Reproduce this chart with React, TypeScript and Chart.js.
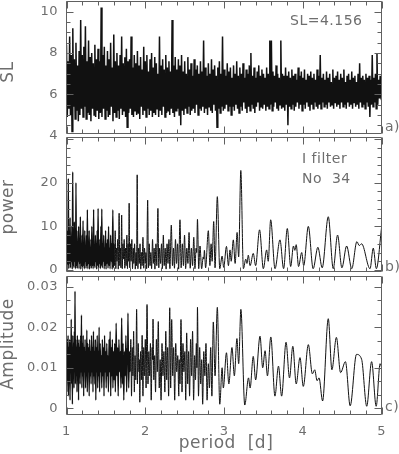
import React, { useEffect, useRef } from "react";
import { Chart, registerables } from "chart.js";

Chart.register(...registerables);

// ---------- data ----------
const periodMin = 1;
const periodMax = 5;
const periodTicks = [1, 2, 3, 4, 5];

// SL panel: values on a regular period grid starting at slStart with step slStep
const slStart = 1.0;
const slStep = 0.01;
const slValues = [
  8.4, 4.9, 7.6, 5.3, 8.8, 5.0, 7.9, 4.2, 9.2, 5.4,
  7.7, 4.8, 8.5, 5.2, 7.4, 4.7, 8.1, 5.0, 9.6, 5.3,
  7.9, 4.9, 8.3, 5.4, 9.3, 4.8, 7.6, 5.1, 8.6, 5.0,
  7.8, 4.7, 8.0, 5.3, 7.5, 5.0, 8.4, 4.9, 7.7, 5.2,
  8.2, 4.8, 7.6, 5.1, 10.2, 4.9, 7.9, 5.3, 8.3, 4.8,
  7.4, 5.2, 8.1, 4.9, 7.7, 5.0, 8.5, 5.4, 7.3, 4.7,
  8.9, 5.1, 7.6, 4.9, 8.0, 5.2, 7.4, 4.8, 7.9, 5.3,
  8.8, 5.0, 7.5, 5.2, 7.8, 4.9, 8.2, 4.4, 7.6, 5.1,
  7.7, 5.3, 8.8, 5.0, 7.3, 4.9, 7.9, 5.2, 7.5, 5.0,
  8.1, 5.1, 7.4, 4.8, 7.8, 5.4, 7.2, 5.0, 8.3, 5.2,
  7.6, 4.9, 7.9, 5.3, 7.1, 5.0, 7.7, 5.2, 8.0, 4.9,
  7.3, 5.1, 7.8, 5.0, 7.5, 5.3, 7.0, 4.9, 8.8, 5.2,
  7.4, 5.0, 7.7, 5.4, 7.2, 4.9, 7.9, 5.1, 7.3, 5.2,
  7.6, 5.0, 7.1, 5.3, 9.6, 5.1, 7.4, 4.9, 7.8, 5.2,
  7.2, 5.3, 7.7, 5.0, 7.4, 4.5, 7.9, 5.2, 7.1, 5.0,
  7.6, 5.3, 7.0, 5.1, 7.8, 5.4, 7.2, 5.0, 7.5, 5.2,
  6.9, 5.3, 7.7, 5.1, 7.2, 5.5, 7.4, 5.0, 7.0, 5.3,
  7.6, 5.2, 7.1, 5.4, 8.6, 5.1, 7.3, 5.3, 6.9, 5.0,
  7.5, 5.4, 7.0, 5.2, 7.7, 5.1, 7.2, 5.5, 7.4, 5.2,
  6.9, 4.4, 7.3, 5.3, 7.6, 5.1, 7.0, 5.4, 8.8, 5.2,
  7.2, 5.3, 6.9, 5.5, 7.5, 5.2, 7.1, 5.4, 7.3, 5.0,
  6.8, 5.4, 7.4, 5.2, 7.0, 5.5, 7.6, 5.3, 6.9, 5.1,
  7.3, 5.4, 7.0, 5.2, 7.5, 5.6, 6.8, 5.3, 7.2, 5.1,
  7.0, 5.4, 7.4, 5.2, 8.0, 5.5, 6.9, 5.3, 7.3, 5.1,
  6.8, 5.4, 7.1, 5.6, 7.4, 5.2, 6.9, 5.4, 7.2, 5.3,
  7.0, 5.5, 6.8, 5.2, 7.3, 5.4, 7.0, 5.3, 8.6, 5.5,
  8.6, 5.2, 7.1, 5.4, 6.9, 5.6, 7.4, 5.3, 7.0, 5.2,
  6.8, 5.5, 8.6, 5.3, 7.0, 5.4, 6.9, 5.2, 7.3, 5.5,
  6.9, 4.5, 7.1, 5.4, 6.8, 5.3, 7.2, 5.5, 6.9, 5.2,
  7.0, 5.4, 6.7, 5.6, 7.3, 5.3, 6.9, 5.5, 7.1, 5.2,
  6.8, 5.5, 7.2, 5.3, 6.7, 5.6, 7.0, 5.4, 6.9, 5.2,
  7.1, 5.5, 6.8, 5.3, 7.0, 5.6, 6.7, 5.4, 7.2, 5.3,
  6.9, 5.5, 7.9, 5.3, 6.8, 5.6, 7.0, 5.4, 6.7, 5.5,
  7.1, 5.3, 6.8, 5.6, 7.0, 5.4, 6.6, 5.5, 7.2, 5.3,
  6.8, 5.6, 6.9, 5.4, 7.1, 5.5, 6.7, 5.3, 7.0, 5.6,
  6.8, 5.4, 7.2, 5.5, 6.6, 5.3, 6.9, 5.6, 7.0, 5.4,
  6.7, 5.5, 7.1, 5.3, 6.8, 5.6, 6.9, 5.4, 6.6, 5.5,
  7.0, 5.3, 7.5, 5.6, 6.8, 5.4, 6.9, 5.5, 6.7, 5.3,
  7.0, 5.6, 6.8, 5.4, 6.9, 4.9, 6.7, 5.5, 7.9, 5.4,
  6.8, 5.6, 7.0, 5.3, 8.0, 5.5, 6.7, 5.8, 6.9, 5.9,
  6.0,
];

// power panel: [period, power] turning points
const powerPoints: [number, number][] = [
  [1.000, 3], [1.006, 0.5], [1.012, 9], [1.017, 1], [1.023, 21], [1.029, 0.3], [1.035, 7], [1.040, 1.5],
  [1.046, 12], [1.051, 0.5], [1.057, 6], [1.062, 2], [1.068, 10], [1.073, 0.2], [1.079, 22.5], [1.085, 1],
  [1.090, 8], [1.095, 0.5], [1.100, 11], [1.106, 2], [1.112, 6], [1.116, 0.3], [1.120, 20], [1.126, 1],
  [1.132, 9], [1.137, 0.4], [1.143, 6], [1.148, 2], [1.154, 10], [1.159, 0.3], [1.165, 7], [1.170, 1.5],
  [1.176, 12.2], [1.181, 0.2], [1.187, 5], [1.192, 1], [1.198, 8], [1.203, 0.5], [1.210, 11.3], [1.215, 1],
  [1.221, 6], [1.226, 0.3], [1.232, 9], [1.237, 2], [1.243, 5], [1.248, 0.4], [1.254, 8], [1.259, 1],
  [1.265, 13.8], [1.271, 0.3], [1.277, 6], [1.282, 1.5], [1.288, 9], [1.293, 0.2], [1.299, 5], [1.304, 1],
  [1.310, 7], [1.315, 0.4], [1.321, 10], [1.327, 1], [1.333, 6], [1.338, 0.3], [1.344, 13.9], [1.350, 1],
  [1.356, 5], [1.361, 0.5], [1.367, 8], [1.372, 2], [1.378, 6], [1.383, 0.2], [1.389, 9], [1.395, 1],
  [1.401, 14.1], [1.407, 0.4], [1.413, 5], [1.418, 1.5], [1.424, 7], [1.430, 0.3], [1.436, 10], [1.442, 1],
  [1.448, 14], [1.454, 0.5], [1.460, 6], [1.466, 2], [1.472, 8], [1.478, 0.3], [1.484, 5], [1.490, 1],
  [1.496, 9], [1.502, 0.2], [1.508, 6], [1.514, 1.5], [1.520, 7], [1.527, 0.4], [1.534, 10], [1.540, 1],
  [1.547, 5], [1.553, 0.3], [1.560, 8], [1.567, 2], [1.574, 6], [1.580, 0.2], [1.588, 13.8], [1.595, 0.5],
  [1.603, 6], [1.610, 1], [1.618, 9], [1.626, 0.3], [1.634, 5], [1.641, 2], [1.649, 7], [1.657, 0.2],
  [1.668, 13], [1.676, 1], [1.684, 5], [1.691, 0.5], [1.700, 12.6], [1.708, 0.3], [1.716, 6], [1.724, 2.5],
  [1.732, 7], [1.740, 0.4], [1.749, 5], [1.757, 1], [1.766, 8], [1.774, 0.3], [1.782, 6], [1.788, 2],
  [1.795, 15.3], [1.803, 0.5], [1.812, 6], [1.820, 2], [1.829, 7], [1.838, 0.3], [1.847, 5], [1.855, 1.5],
  [1.864, 6], [1.873, 0.2], [1.882, 4], [1.889, 1], [1.897, 21.8], [1.906, 0.3], [1.915, 5], [1.924, 1.5],
  [1.933, 6], [1.942, 0.2], [1.952, 4], [1.960, 1], [1.970, 7.5], [1.980, 0.4], [1.990, 5], [1.999, 1.5],
  [2.008, 4], [2.017, 0.3], [2.030, 16], [2.040, 0.5], [2.050, 6], [2.060, 1], [2.070, 4], [2.080, 0.3],
  [2.092, 7], [2.102, 1.5], [2.112, 5], [2.122, 0.2], [2.135, 6], [2.146, 1], [2.160, 14.1], [2.171, 0.5],
  [2.182, 5], [2.194, 1.5], [2.206, 6], [2.217, 0.3], [2.229, 8], [2.240, 1], [2.252, 5], [2.264, 0.2],
  [2.276, 6], [2.288, 1.5], [2.300, 7], [2.312, 0.3], [2.330, 10.3], [2.345, 1], [2.358, 5], [2.370, 0.4],
  [2.383, 7], [2.396, 1.5], [2.410, 6], [2.423, 0.2], [2.440, 11.5], [2.455, 0.5], [2.470, 6], [2.484, 1],
  [2.498, 8], [2.512, 0.3], [2.527, 5], [2.541, 1.5], [2.555, 8.6], [2.570, 0.4], [2.585, 5], [2.600, 1],
  [2.615, 7.5], [2.630, 0.3], [2.645, 5], [2.652, 4], [2.662, 11.6], [2.678, 0.3], [2.694, 5.5], [2.715, 0.3],
  [2.735, 3], [2.742, 2.5], [2.750, 4.5], [2.765, 0.5], [2.800, 9], [2.820, 1], [2.835, 6], [2.848, 2],
  [2.868, 11.1], [2.885, 0.5], [2.914, 16.8], [2.945, 0.3], [2.975, 3.2], [2.995, 0.6], [3.030, 5.4], [3.055, 1],
  [3.075, 4.6], [3.090, 2], [3.117, 6.9], [3.140, 1.5], [3.165, 8.6], [3.185, 3], [3.212, 22.8], [3.245, 0.3],
  [3.275, 2.5], [3.290, 1.5], [3.307, 3.4], [3.330, 1], [3.370, 3.8], [3.400, 1], [3.450, 9.2], [3.498, 0.3],
  [3.540, 4.6], [3.560, 2], [3.591, 11.5], [3.646, 0.3], [3.709, 6.9], [3.755, 0.3], [3.802, 9.5], [3.845, 0.8],
  [3.880, 5.5], [3.898, 4.5], [3.915, 5.8], [3.945, 0.8], [3.985, 4], [4.010, 1], [4.069, 10], [4.130, 0.3],
  [4.190, 5.2], [4.245, 0.5], [4.322, 12.2], [4.385, 0.3], [4.440, 8], [4.495, 0.5], [4.555, 5.5], [4.620, 0.3],
  [4.685, 6.5], [4.715, 5.6], [4.745, 6], [4.852, 0.3], [4.893, 5], [4.932, 0.3], [5.000, 10],
];

// amplitude panel: [period, amplitude] turning points
const amplitudePoints: [number, number][] = [
  [1.000, 0.012], [1.005, 0.004], [1.010, 0.017], [1.015, 0.007], [1.020, 0.018], [1.025, 0.003], [1.030, 0.015], [1.035, 0.008],
  [1.040, 0.017], [1.045, 0.002], [1.050, 0.016], [1.055, 0.009], [1.060, 0.022], [1.065, 0.006], [1.070, 0.015], [1.075, 0.001],
  [1.080, 0.018], [1.085, 0.008], [1.090, 0.016], [1.095, 0.005], [1.100, 0.019], [1.104, 0.009], [1.108, 0.0289], [1.113, 0.006],
  [1.118, 0.017], [1.123, 0.009], [1.128, 0.015], [1.133, 0.004], [1.138, 0.018], [1.143, 0.008], [1.148, 0.016], [1.153, 0.002],
  [1.158, 0.017], [1.163, 0.009], [1.168, 0.015], [1.173, 0.006], [1.180, 0.018], [1.185, 0.009], [1.190, 0.023], [1.195, 0.005],
  [1.200, 0.016], [1.206, 0.008], [1.212, 0.018], [1.218, 0.003], [1.224, 0.015], [1.230, 0.009], [1.236, 0.017], [1.242, 0.005],
  [1.248, 0.014], [1.253, 0.008], [1.258, 0.0193], [1.264, 0.004], [1.270, 0.016], [1.276, 0.009], [1.282, 0.015], [1.288, 0.003],
  [1.294, 0.017], [1.300, 0.008], [1.306, 0.014], [1.312, 0.006], [1.318, 0.018], [1.324, 0.009], [1.330, 0.015], [1.336, 0.004],
  [1.342, 0.019], [1.348, 0.008], [1.354, 0.014], [1.360, 0.006], [1.366, 0.017], [1.372, 0.002], [1.378, 0.015], [1.384, 0.009],
  [1.390, 0.018], [1.396, 0.005], [1.402, 0.014], [1.408, 0.008], [1.414, 0.020], [1.420, 0.004], [1.427, 0.016], [1.434, 0.009],
  [1.441, 0.013], [1.448, 0.005], [1.455, 0.017], [1.462, 0.008], [1.469, 0.015], [1.476, 0.003], [1.483, 0.018], [1.490, 0.009],
  [1.497, 0.014], [1.504, 0.005], [1.511, 0.016], [1.518, 0.008], [1.525, 0.013], [1.532, 0.004], [1.540, 0.017], [1.547, 0.009],
  [1.554, 0.019], [1.561, 0.003], [1.568, 0.015], [1.575, 0.008], [1.582, 0.017], [1.589, 0.005], [1.596, 0.014], [1.604, 0.007],
  [1.612, 0.016], [1.620, 0.004], [1.630, 0.021], [1.639, 0.008], [1.648, 0.015], [1.656, 0.003], [1.665, 0.017], [1.674, 0.009],
  [1.683, 0.014], [1.691, 0.005], [1.700, 0.0223], [1.709, 0.006], [1.718, 0.016], [1.727, 0.002], [1.736, 0.014], [1.745, 0.008],
  [1.754, 0.018], [1.763, 0.004], [1.772, 0.015], [1.776, 0.012], [1.780, 0.0235], [1.789, 0.005], [1.798, 0.014], [1.807, 0.009],
  [1.816, 0.017], [1.825, 0.003], [1.834, 0.015], [1.843, 0.008], [1.852, 0.019], [1.861, 0.004], [1.870, 0.013], [1.879, 0.007],
  [1.890, 0.0244], [1.900, 0.006], [1.910, 0.016], [1.920, 0.009], [1.925, 0.012], [1.930, 0.0015], [1.940, 0.014], [1.950, 0.007],
  [1.960, 0.018], [1.970, 0.003], [1.980, 0.015], [1.990, 0.008], [2.000, 0.017], [2.010, 0.005], [2.022, 0.0256], [2.034, 0.006],
  [2.045, 0.014], [2.055, 0.008], [2.065, 0.016], [2.075, 0.002], [2.087, 0.015], [2.092, 0.012], [2.098, 0.022], [2.108, 0.007],
  [2.119, 0.013], [2.130, 0.004], [2.141, 0.017], [2.152, 0.009], [2.165, 0.0214], [2.177, 0.005], [2.189, 0.012], [2.200, 0.002],
  [2.212, 0.016], [2.224, 0.008], [2.236, 0.014], [2.248, 0.004], [2.260, 0.019], [2.272, 0.007], [2.284, 0.015], [2.296, 0.003],
  [2.310, 0.0248], [2.322, 0.005], [2.335, 0.0219], [2.348, 0.008], [2.360, 0.015], [2.373, 0.002], [2.386, 0.016], [2.399, 0.009],
  [2.412, 0.013], [2.425, 0.003], [2.430, 0.012], [2.440, 0.006], [2.453, 0.0219], [2.466, 0.004], [2.478, 0.016], [2.490, 0.009],
  [2.502, 0.014], [2.513, 0.002], [2.525, 0.0186], [2.538, 0.006], [2.550, 0.014], [2.562, 0.003], [2.575, 0.017], [2.588, 0.008],
  [2.600, 0.019], [2.613, 0.002], [2.626, 0.013], [2.637, 0.007], [2.648, 0.016], [2.655, 0.010], [2.662, 0.0249], [2.675, 0.003],
  [2.690, 0.015], [2.703, 0.006], [2.716, 0.012], [2.728, 0.001], [2.742, 0.014], [2.756, 0.008], [2.770, 0.016], [2.784, 0.002],
  [2.800, 0.011], [2.814, 0.005], [2.830, 0.015], [2.845, 0.003], [2.863, 0.0213], [2.885, 0.008], [2.914, 0.0249], [2.945, 0.001],
  [2.975, 0.010], [2.990, 0.005], [3.030, 0.0137], [3.060, 0.006], [3.100, 0.015], [3.130, 0.008], [3.163, 0.0172], [3.185, 0.011],
  [3.213, 0.0244], [3.262, 0.0008], [3.310, 0.0075], [3.330, 0.005], [3.370, 0.0128], [3.400, 0.007], [3.456, 0.0178], [3.490, 0.010],
  [3.520, 0.0142], [3.550, 0.008], [3.593, 0.0176], [3.645, 0.003], [3.690, 0.0104], [3.730, 0.003], [3.786, 0.0163], [3.830, 0.0075],
  [3.872, 0.0153], [3.915, 0.006], [3.963, 0.0125], [4.005, 0.0054], [4.069, 0.0157], [4.120, 0.0085], [4.150, 0.0095], [4.180, 0.0068],
  [4.205, 0.0075], [4.250, 0.0018], [4.322, 0.0221], [4.368, 0.0095], [4.425, 0.0175], [4.478, 0.0088], [4.540, 0.0115], [4.600, 0.0006],
  [4.680, 0.0133], [4.745, 0.0121], [4.810, 0.0005], [4.872, 0.0115], [4.930, 0.0005], [4.980, 0.011], [5.000, 0.010],
];

const slTickValues = [4, 6, 8, 10];
const slTickText = ["4", "6", "8", "10"];
const powerTickValues = [0, 10, 20];
const powerTickText = ["0", "10", "20"];
const ampTickValues = [0, 0.01, 0.02, 0.03];
const ampTickText = ["0", "0.01", "0.02", "0.03"];

const slTitle = "SL";
const powerTitle = "power";
const ampTitle = "Amplitude";
const xTitle = "period  [d]";
const slNote = "SL=4.156";
const filterNote = "I filter";
const starNote = "No  34";

// ---------- layout / style ----------
const W = 399;
const H = 454;
const PLOT_LEFT = 66.5;
const PLOT_RIGHT = 381.7;
const FONT = '"DejaVu Sans", sans-serif';
const TEXT = "#6e6e6e";
const FRAME = "#606060";
const LINE = "#111111";

type Note = { text: string; x: number; y: number };
type Frame = {
  tickStart: number;
  tickStep: number;
  majorEvery: number;
  labelValues: number[];
  labelText: string[];
  title: string;
  titleY: number;
  corner: string;
  cornerY: number;
  notes: Note[];
  xLabels: boolean;
};

function framePlugin(f: Frame) {
  return {
    id: "panelFrame",
    afterDraw(chart: any) {
      const { ctx, chartArea: a, scales } = chart;
      const xs = scales.x;
      const ys = scales.y;
      const L = Math.floor(a.left) + 0.5;
      const R = Math.floor(a.right) + 0.5;
      const T = Math.floor(a.top) + 0.5;
      const B = Math.floor(a.bottom) + 0.5;
      ctx.save();
      ctx.strokeStyle = FRAME;
      ctx.lineWidth = 1;
      ctx.beginPath();
      ctx.rect(L, T, R - L, B - T);
      for (let i = 0; i <= 20; i++) {
        const v = periodMin + i * 0.2;
        const px = Math.round(xs.getPixelForValue(v)) + 0.5;
        const len = i % 5 === 0 ? 7 : 4;
        ctx.moveTo(px, T);
        ctx.lineTo(px, T + len);
        ctx.moveTo(px, B);
        ctx.lineTo(px, B - len);
      }
      for (let i = 0; i < 200; i++) {
        const v = f.tickStart + i * f.tickStep;
        if (v > ys.max + 1e-12) break;
        if (v < ys.min - 1e-12) continue;
        const py = Math.round(ys.getPixelForValue(v)) + 0.5;
        const len = i % f.majorEvery === 0 ? 7 : 4;
        ctx.moveTo(L, py);
        ctx.lineTo(L + len, py);
        ctx.moveTo(R, py);
        ctx.lineTo(R - len, py);
      }
      ctx.stroke();

      ctx.fillStyle = TEXT;
      (ctx as any).letterSpacing = "0.5px";
      ctx.font = `13px ${FONT}`;
      ctx.textAlign = "right";
      ctx.textBaseline = "middle";
      f.labelValues.forEach((v, k) => {
        ctx.fillText(f.labelText[k], 58, ys.getPixelForValue(v));
      });
      if (f.xLabels) {
        ctx.textAlign = "center";
        periodTicks.forEach((v) => {
          ctx.fillText(String(v), xs.getPixelForValue(v), 432);
        });
        ctx.font = `17px ${FONT}`;
        ctx.textBaseline = "alphabetic";
        ctx.fillText(xTitle, 226, 448);
      }
      ctx.font = `14px ${FONT}`;
      ctx.textAlign = "left";
      ctx.textBaseline = "alphabetic";
      f.notes.forEach((n) => ctx.fillText(n.text, n.x, n.y));
      ctx.textBaseline = "middle";
      ctx.fillText(f.corner, 385, f.cornerY);
      ctx.save();
      ctx.translate(13, f.titleY);
      ctx.rotate(-Math.PI / 2);
      ctx.font = `17px ${FONT}`;
      ctx.textAlign = "center";
      ctx.textBaseline = "alphabetic";
      ctx.fillText(f.title, 0, 0);
      ctx.restore();
      ctx.restore();
    },
  };
}

type Panel = {
  data: { x: number; y: number }[];
  yMin: number;
  yMax: number;
  top: number;
  bottom: number;
  smooth: boolean;
  denseUntil: number;
  denseWidth: number;
  frame: Frame;
};

function makeChart(canvas: HTMLCanvasElement, p: Panel) {
  return new Chart(canvas, {
    type: "line",
    data: {
      datasets: [
        {
          data: p.data,
          borderColor: LINE,
          borderWidth: 1,
          pointRadius: 0,
          fill: false,
          tension: 0,
          cubicInterpolationMode: p.smooth ? "monotone" : "default",
          segment: {
            borderWidth: (c: any) => (c.p0.parsed.x < p.denseUntil ? p.denseWidth : 1),
          },
        } as any,
      ],
    },
    options: {
      responsive: false,
      animation: false,
      events: [],
      parsing: false,
      layout: {
        padding: { left: PLOT_LEFT, right: W - PLOT_RIGHT, top: p.top, bottom: H - p.bottom },
      },
      scales: {
        x: { type: "linear", min: periodMin, max: periodMax, display: false },
        y: { type: "linear", min: p.yMin, max: p.yMax, display: false },
      },
      plugins: { legend: { display: false }, tooltip: { enabled: false } },
    } as any,
    plugins: [framePlugin(p.frame)],
  });
}

export default function App() {
  const r1 = useRef<HTMLCanvasElement>(null);
  const r2 = useRef<HTMLCanvasElement>(null);
  const r3 = useRef<HTMLCanvasElement>(null);

  useEffect(() => {
    const slData = slValues.map((v, i) => ({ x: slStart + i * slStep, y: v }));
    const powerData = powerPoints.map(([x, y]) => ({ x, y }));
    const ampData = amplitudePoints.map(([x, y]) => ({ x, y }));

    const panels: Panel[] = [
      {
        data: slData,
        yMin: 4.126,
        yMax: 10.518,
        top: 1,
        bottom: 133,
        smooth: false,
        denseUntil: 6,
        denseWidth: 1.5,
        frame: {
          tickStart: 4, tickStep: 0.5, majorEvery: 4,
          labelValues: slTickValues, labelText: slTickText,
          title: slTitle, titleY: 72, corner: "a)", cornerY: 127.5,
          notes: [{ text: slNote, x: 290, y: 25 }], xLabels: false,
        },
      },
      {
        data: powerData,
        yMin: -0.23,
        yMax: 30.47,
        top: 137,
        bottom: 271,
        smooth: true,
        denseUntil: 1.6,
        denseWidth: 1.4,
        frame: {
          tickStart: 0, tickStep: 2, majorEvery: 5,
          labelValues: powerTickValues, labelText: powerTickText,
          title: powerTitle, titleY: 207, corner: "b)", cornerY: 267.5,
          notes: [
            { text: filterNote, x: 302, y: 163 },
            { text: starNote, x: 302, y: 183 },
          ],
          xLabels: false,
        },
      },
      {
        data: ampData,
        yMin: -0.00141,
        yMax: 0.03264,
        top: 276,
        bottom: 414,
        smooth: true,
        denseUntil: 1.8,
        denseWidth: 1.4,
        frame: {
          tickStart: 0, tickStep: 0.01 / 3, majorEvery: 3,
          labelValues: ampTickValues, labelText: ampTickText,
          title: ampTitle, titleY: 344, corner: "c)", cornerY: 407,
          notes: [], xLabels: true,
        },
      },
    ];
    const canvases = [r1.current!, r2.current!, r3.current!];
    const charts = panels.map((p, i) => makeChart(canvases[i], p));
    return () => charts.forEach((c) => c.destroy());
  }, []);

  const cs: React.CSSProperties = { position: "absolute", left: 0, top: 0, width: W, height: H };
  return (
    <div style={{ position: "absolute", left: 0, top: 0, width: W, height: H, background: "#fff" }}>
      <canvas ref={r1} width={W} height={H} style={cs} />
      <canvas ref={r2} width={W} height={H} style={cs} />
      <canvas ref={r3} width={W} height={H} style={cs} />
    </div>
  );
}
